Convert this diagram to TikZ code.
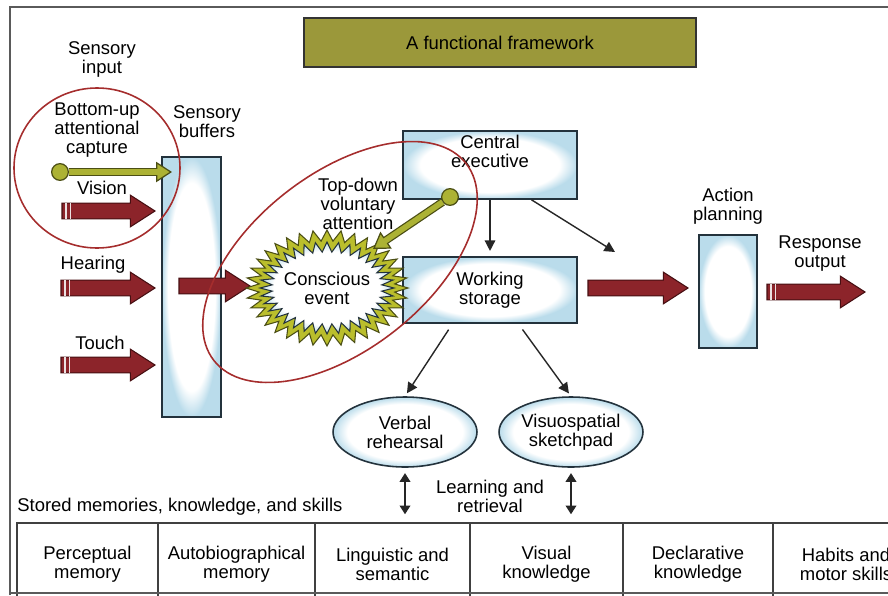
\documentclass[tikz,border=0pt]{standalone}
\usepackage{fontspec}
\setmainfont{Liberation Sans}
\usetikzlibrary{calc,arrows.meta,shapes.geometric}

\definecolor{arrowred}{RGB}{140,36,42}
\definecolor{arrowedge}{RGB}{70,15,18}
\definecolor{tailwhite}{RGB}{235,225,225}
\definecolor{ringred}{RGB}{165,45,45}
\definecolor{titleolive}{RGB}{155,152,58}
\definecolor{burstolive}{RGB}{186,190,44}
\definecolor{pinolive}{RGB}{172,178,52}
\definecolor{oliveedge}{RGB}{75,78,20}
\definecolor{glowblue}{RGB}{186,220,235}
\definecolor{boxedge}{RGB}{35,50,60}
\definecolor{framegray}{RGB}{90,90,90}

\pgfdeclareradialshading{glow}{\pgfpointorigin}{color(0bp)=(white); color(20bp)=(white); color(25bp)=(glowblue); color(50bp)=(glowblue)}

\tikzset{
  lbl/.style={align=center, inner sep=0pt},
  box/.style={draw=boxedge, line width=0.9pt, shade, shading=glow, align=center, inner sep=0pt},
  oval/.style={box, ellipse, minimum width=2.88cm, minimum height=1.4cm},
  cell/.style={draw=black!75, line width=0.9pt, minimum height=1.64cm, align=center, inner sep=0pt},
  fat/.style={draw=arrowedge, fill=arrowred, line width=0.6pt},
  tailmark/.style={draw=tailwhite, line width=0.8pt},
  ring/.style={draw=ringred, line width=0.9pt},
  burst/.style={draw=oliveedge, fill=burstolive, line width=0.6pt},
  burstin/.style={draw=boxedge, line width=0.6pt, shade, shading=glow},
  pindot/.style={circle, draw=oliveedge, fill=pinolive, line width=0.7pt, minimum size=9.5pt, inner sep=0pt},
  pinedge/.style={line width=4.6pt, draw=oliveedge, -{Triangle[length=9pt, width=11.5pt, line width=0.7pt, fill=pinolive]}},
  pincore/.style={line width=3.2pt, draw=pinolive, shorten >=8pt},
  flow/.style={draw=black!85, line width=0.8pt, -{Triangle[length=6pt, width=6pt]}},
  dbl/.style={draw=black!85, line width=1.1pt, {Triangle[length=5pt, width=6pt]}-{Triangle[length=5pt, width=6pt]}}
}

% red block arrow from #1 to #2 (horizontal)
\newcommand\fatarrow[2]{%
  \draw[fat] let \p1=(#1), \p2=(#2) in
    (\x1,\y1+4.5pt) -- (\x2-14pt,\y1+4.5pt) -- (\x2-14pt,\y1+9pt) -- (\x2,\y1)
    -- (\x2-14pt,\y1-9pt) -- (\x2-14pt,\y1-4.5pt) -- (\x1,\y1-4.5pt) -- cycle;}
% the two light marks at the tail of an input arrow
\newcommand\tailmarks[1]{%
  \draw[tailmark] ([xshift=2.3pt]#1) ++(0,4.5pt) -- ++(0,-9pt)
    ([xshift=4.8pt]#1) ++(0,4.5pt) -- ++(0,-9pt);}

\begin{document}
\begin{tikzpicture}[x=0.02cm, y=-0.02cm, font=\fontsize{10.5}{10.8}\selectfont]
\useasboundingbox (0,0) rectangle (888,595);
\clip (0,0) rectangle (888,595);

% frame
\draw[framegray, line width=1.1pt] (10,595) -- (10,7) -- (888,7);

\node[draw=black!80, line width=0.9pt, fill=titleolive, minimum width=7.84cm, minimum height=0.98cm] (title) at (500,42.5) {A functional framework};

% sensory side
\node[lbl] (sensin) at (102,59) {Sensory\\input};
\node[lbl] (bulbl) at (97,130) {Bottom-up\\attentional\\capture};
\node[lbl] (sblbl) at (207,122) {Sensory\\buffers};
\node[lbl] (vislbl) at (102,188) {Vision};
\node[lbl] (hearlbl) at (93,265) {Hearing};
\node[lbl] (touchlbl) at (100,343) {Touch};

\node[box, minimum width=1.18cm, minimum height=5.2cm] (sb) at (191.5,287) {};

% executive and storage
\node[box, minimum width=3.48cm, minimum height=1.36cm] (ce) at (490,165) {Central\\executive\\[5pt]};
\node[box, minimum width=3.48cm, minimum height=1.32cm] (ws) at (490,290) {Working\\storage};
\node[lbl] (tdlbl) at (358,204) {Top-down\\voluntary\\attention};

\node[lbl] (aplbl) at (728,206) {Action\\planning};
\node[box, minimum width=1.16cm, minimum height=2.26cm] (ap) at (728,291.5) {};
\node[lbl] (resplbl) at (820,254) {Response\\output};

\node[oval] (verbal) at (405,432) {Verbal\\rehearsal};
\node[oval] (visuo) at (571,432) {Visuospatial\\sketchpad};
\node[lbl] (learnlbl) at (490,496) {Learning and\\retrieval};

% stored memories
\node[lbl, anchor=west] (storedlbl) at (17,507) {Stored memories, knowledge, and skills};
\node[cell, minimum width=2.82cm] (perc) at (87.5,564) {Perceptual\\memory};
\node[cell, minimum width=3.14cm] (auto) at (236.5,564) {Autobiographical\\memory};
\node[cell, minimum width=3.10cm] (ling) at (392.5,564) {Linguistic and\\semantic};
\node[cell, minimum width=3.06cm] (visk) at (546.5,564) {Visual\\knowledge};
\node[cell, minimum width=3.00cm] (decl) at (698,564) {Declarative\\knowledge};
\node[cell, minimum width=2.92cm] (habit) at (846,564) {Habits and\\motor skills};
\draw[framegray, line width=1.1pt] (10,593) -- (888,593);

% thin connectors
\coordinate (ce-out) at (615,252);
\draw[flow, shorten >=3pt] (ce) -- (ws);
\draw[flow] (ce.-40) -- (ce-out);
\draw[flow, shorten <=4pt, shorten >=2pt] (ws.-138) -- (verbal.north);
\draw[flow, shorten <=4pt, shorten >=2pt] (ws.-50) -- (visuo.north);
\draw[dbl, shorten <=3pt, shorten >=4.5pt] (verbal) -- (verbal |- ling.north);
\draw[dbl, shorten <=3pt, shorten >=4.5pt] (visuo) -- (visuo |- visk.north);

% block arrows
\coordinate (vis-in) at (62,211);
\coordinate (hear-in) at (61,288);
\coordinate (touch-in) at (61,365);
\coordinate (vis-end) at (155,211);
\coordinate (hear-end) at (155,288);
\coordinate (touch-end) at (155,365);
\fatarrow{vis-in}{vis-end}
\fatarrow{hear-in}{hear-end}
\fatarrow{touch-in}{touch-end}
\tailmarks{vis-in}
\tailmarks{hear-in}
\tailmarks{touch-in}

\coordinate (sb-out) at (179,286);
\coordinate (cev-in) at (250,286);
\fatarrow{sb-out}{cev-in}

\coordinate (ws-out) at (588,288);
\coordinate (ap-in) at (688,288);
\fatarrow{ws-out}{ap-in}

\coordinate (resp-in) at (767,292);
\coordinate (resp-end) at (865,292);
\fatarrow{resp-in}{resp-end}
\tailmarks{resp-in}

% conscious event
\coordinate (burstc) at (327,288);
\draw[burst] ($(burstc)+(0:81 and 58)$)
  \foreach \a in {0,10,...,350} { -- ($(burstc)+(\a+5:68 and 47)$) -- ($(burstc)+(\a+10:81 and 58)$) } -- cycle;
\draw[burstin] ($(burstc)+(0:67 and 46)$)
  \foreach \a in {0,10,...,350} { -- ($(burstc)+(\a+5:55 and 36)$) -- ($(burstc)+(\a+10:67 and 46)$) } -- cycle;
\node[lbl] (cev) at (burstc) {Conscious\\event};

% attention rings
\coordinate (bucirc) at (97,168);
\coordinate (tdcirc) at (340,262);
\draw[ring] (bucirc) ellipse [x radius=83, y radius=80];
\draw[ring, rotate around={38:(tdcirc)}] (tdcirc) ellipse [x radius=160, y radius=88];

% attention pins
\node[pindot] (bu-pin) at (60,172) {};
\coordinate (bu-tip) at (172,172);
\draw[pinedge] (bu-pin) -- (bu-tip);
\draw[pincore] (bu-pin) -- (bu-tip);

\node[pindot] (td-pin) at (450,197) {};
\coordinate (td-tip) at (373,249);
\draw[pinedge] (td-pin) -- (td-tip);
\draw[pincore] (td-pin) -- (td-tip);

\end{tikzpicture}
\end{document}
